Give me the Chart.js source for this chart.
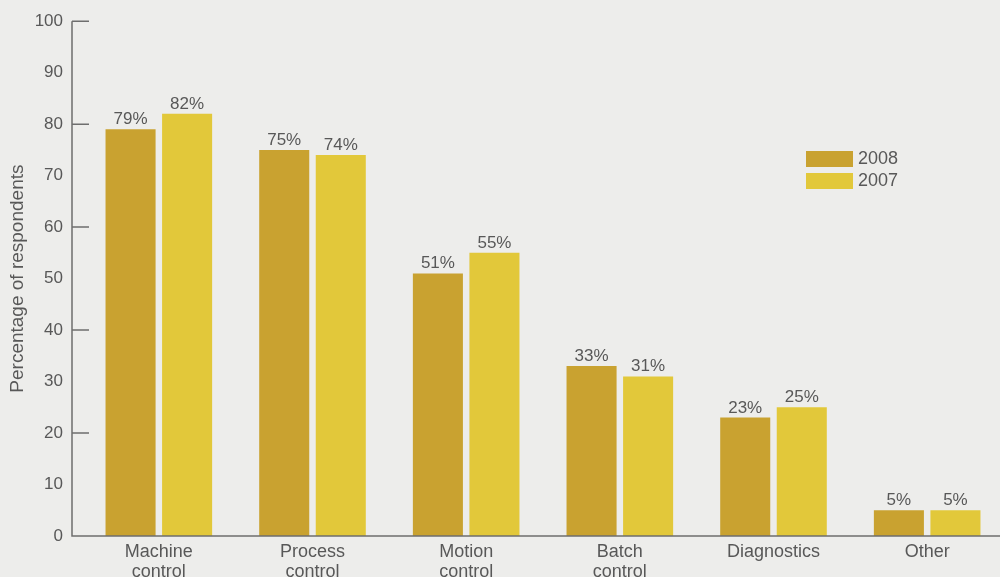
<!DOCTYPE html>
<html>
<head>
<meta charset="utf-8">
<script src="https://cdn.jsdelivr.net/npm/chart.js@4.4.1/dist/chart.umd.min.js"></script>
<style>
  html, body { margin: 0; padding: 0; background: #ededeb; overflow: hidden; }
  .wrap { width: 1010px; height: 577px; position: relative; }
</style>
</head>
<body>
<div class="wrap"><canvas id="chart" width="1010" height="577"></canvas></div>
<script>
const categories = [["Machine", "control"], ["Process", "control"], ["Motion", "control"], ["Batch", "control"], "Diagnostics", "Other"];
const values2008 = [79, 75, 51, 33, 23, 5];
const values2007 = [82, 74, 55, 31, 25, 5];
const yTicks = [0, 10, 20, 30, 40, 50, 60, 70, 80, 90, 100];

const textColor = "#585858";
const axisColor = "#6e6e6e";
const fontFamily = "'Liberation Sans', Arial, Helvetica, sans-serif";

// axis line at the left with short ticks every 20, plus the baseline
const axisLines = {
  id: "axisLines",
  afterDraw(chart) {
    const ctx = chart.ctx;
    const y = chart.scales.y;
    const x0 = chart.chartArea.left - 10;
    const yb = y.getPixelForValue(0);
    ctx.save();
    ctx.strokeStyle = axisColor;
    ctx.lineWidth = 1.5;
    ctx.beginPath();
    ctx.moveTo(x0, y.getPixelForValue(100));
    ctx.lineTo(x0, yb);
    ctx.lineTo(1000, yb);
    yTicks.filter(v => v % 20 === 0 && v > 0).forEach(v => {
      const py = y.getPixelForValue(v);
      ctx.moveTo(x0, py);
      ctx.lineTo(x0 + 17, py);
    });
    ctx.stroke();
    ctx.restore();
  }
};

const barLabels = {
  id: "barLabels",
  afterDatasetsDraw(chart) {
    const ctx = chart.ctx;
    ctx.save();
    ctx.fillStyle = textColor;
    ctx.font = "17px " + fontFamily;
    ctx.textAlign = "center";
    ctx.textBaseline = "alphabetic";
    chart.data.datasets.forEach((ds, i) => {
      chart.getDatasetMeta(i).data.forEach((bar, j) => {
        ctx.fillText(ds.data[j] + "%", bar.x, bar.y - 5);
      });
    });
    ctx.restore();
  }
};

const boxLegend = {
  id: "boxLegend",
  afterDraw(chart) {
    const ctx = chart.ctx;
    ctx.save();
    ctx.font = "18px " + fontFamily;
    ctx.textBaseline = "middle";
    chart.data.datasets.forEach((ds, i) => {
      const top = 151 + i * 22;
      ctx.fillStyle = ds.backgroundColor;
      ctx.fillRect(806, top, 47, 16);
      ctx.fillStyle = textColor;
      ctx.fillText(ds.label, 858, top + 8);
    });
    ctx.restore();
  }
};

new Chart(document.getElementById("chart"), {
  type: "bar",
  data: {
    labels: categories,
    datasets: [
      { label: "2008", data: values2008, backgroundColor: "#c9a230" },
      { label: "2007", data: values2007, backgroundColor: "#e2c83a" }
    ]
  },
  options: {
    responsive: false,
    animation: false,
    layout: { padding: { top: 11, right: 6, bottom: 0, left: 0 } },
    categoryPercentage: 0.736,
    barPercentage: 0.885,
    plugins: { legend: { display: false }, tooltip: { enabled: false } },
    scales: {
      x: {
        grid: { display: false },
        border: { display: false },
        ticks: {
          color: textColor,
          font: { family: fontFamily, size: 18, lineHeight: 1.1 },
          padding: -2,
          maxRotation: 0,
          autoSkip: false
        },
        afterFit(scale) { scale.height = 41; }
      },
      y: {
        min: 0,
        max: 100,
        grid: { display: false },
        border: { display: false },
        ticks: {
          stepSize: 10,
          color: textColor,
          font: { family: fontFamily, size: 17 },
          padding: 11
        },
        title: {
          display: true,
          text: "Percentage of respondents",
          color: textColor,
          font: { family: fontFamily, size: 19, lineHeight: 1.2 },
          padding: { top: 6, bottom: 0 }
        },
        afterFit(scale) { scale.width = 82; }
      }
    }
  },
  plugins: [axisLines, barLabels, boxLegend]
});
</script>
</body>
</html>
